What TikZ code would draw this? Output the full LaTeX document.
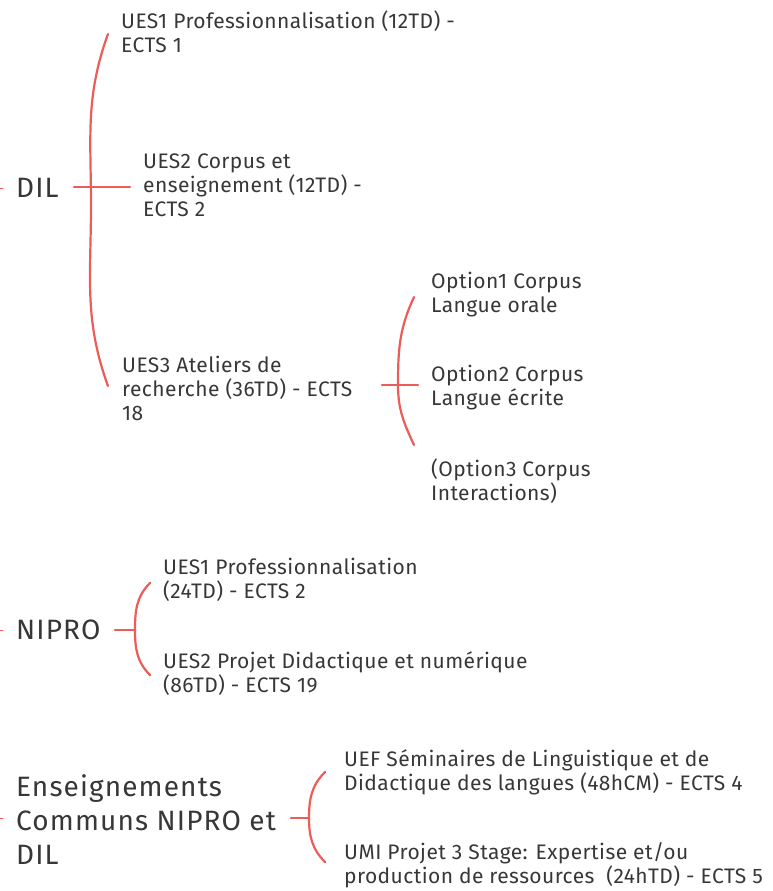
\documentclass[tikz,border=0pt]{standalone}
\usepackage{fontspec}
\newfontfamily\smallf{Fira Sans}[Ligatures=NoCommon,LetterSpace=2]
\newfontfamily\bigf{Fira Sans}[Ligatures=NoCommon,LetterSpace=4]
\definecolor{brred}{RGB}{236,92,88}
\definecolor{txt}{RGB}{55,55,55}
\begin{document}
\begin{tikzpicture}[x=1pt,y=-1pt,
  br/.style={draw=brred,line width=2.2pt,line cap=round},
  small/.style={anchor=west,align=left,inner sep=0pt,text=txt,font=\smallf\fontsize{21}{24}\selectfont},
  big/.style={anchor=west,align=left,inner sep=0pt,text=txt,font=\bigf\fontsize{28}{34}\selectfont}]
\useasboundingbox (0,0) rectangle (773,891);
% level 1
\node[big] (dil) at (16,188) {DIL};
\node[big] (nipro) at (16,630) {NIPRO};
\node[big] (ens) at (16,820) {Enseignements\\Communs NIPRO et\\DIL};
% DIL children
\node[small] (u1) at (121,32) {UES1 Professionnalisation (12TD) -\\ECTS 1};
\node[small] (u2) at (143,185) {UES2 Corpus et\\enseignement (12TD) -\\ECTS 2};
\node[small] (u3) at (122,388) {UES3 Ateliers de\\recherche (36TD) - ECTS\\18};
% options
\node[small] (o1) at (431,295) {Option1 Corpus\\Langue orale};
\node[small] (o2) at (431,388) {Option2 Corpus\\Langue écrite};
\node[small] (o3) at (431,481) {(Option3 Corpus\\Interactions)};
% NIPRO children
\node[small] (n1) at (163,580) {UES1 Professionnalisation\\(24TD) - ECTS 2};
\node[small] (n2) at (163,674) {UES2 Projet Didactique et numérique\\(86TD) - ECTS 19};
% common
\node[small] (c1) at (344,772) {UEF Séminaires de Linguistique et de\\Didactique des langues (48hCM) - ECTS 4};
\node[small] (c2) at (344,865) {UMI Projet 3 Stage: Expertise et/ou\\production de ressources\ \ (24hTD) - ECTS 5};
% left stubs of cut-off parent connector
\coordinate (e0) at (0,188);
\coordinate (e1) at (0,630);
\coordinate (e2) at (0,818);
\draw[br,line width=1pt] (e0) -- ++(3,0);
\draw[br,line width=1pt] (e1) -- ++(3,0);
\draw[br,line width=1pt] (e2) -- ++(3,0);
% DIL bracket
\coordinate (d1t) at (108,34);
\coordinate (d1m) at (91,205);
\coordinate (d1b) at (108,386);
\coordinate (d1h) at (130,187);
\draw[br] (d1t) to[out=-110,in=90] (d1m) to[out=-90,in=110] (d1b);
\draw[br] (74,187) -- (d1h);
% options bracket
\coordinate (d2t) at (414,297);
\coordinate (d2m) at (398,385);
\coordinate (d2b) at (414,445);
\coordinate (d2h) at (418,385);
\coordinate (d2s) at (382,385);
\draw[br] (d2t) to[out=-115,in=90] (d2m) to[out=-90,in=115] (d2b);
\draw[br] (d2s) -- (d2h);
% NIPRO bracket
\coordinate (d3t) at (150,583);
\coordinate (d3m) at (135,630);
\coordinate (d3b) at (150,675);
\draw[br] (d3t) to[out=-135,in=90] (d3m) to[out=-90,in=135] (d3b);
\draw[br] (115,630) -- (d3m);
% common bracket
\coordinate (d4t) at (325,772);
\coordinate (d4m) at (309,818);
\coordinate (d4b) at (325,862);
\draw[br] (d4t) to[out=-135,in=90] (d4m) to[out=-90,in=135] (d4b);
\draw[br] (291,818) -- (d4m);
\end{tikzpicture}
\end{document}
